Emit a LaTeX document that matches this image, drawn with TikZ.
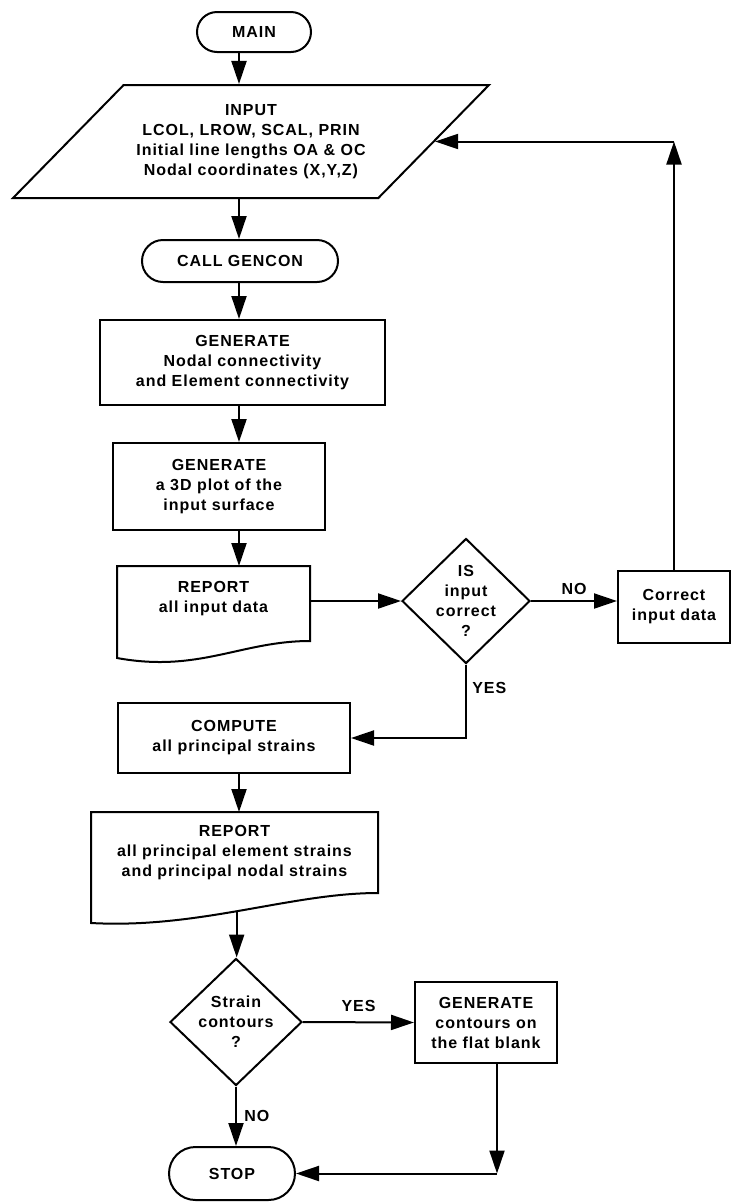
\documentclass[tikz,border=0pt]{standalone}
\usepackage{fontspec}
\setmainfont{Liberation Sans}[LetterSpace=6]
\usetikzlibrary{arrows.meta,positioning,calc,shapes.geometric,shapes.misc}
\tikzset{
  box/.style={draw,line width=2pt,align=center,inner sep=2pt},
  term/.style={box,rounded rectangle},
  inbox/.style={box,trapezium,trapezium left angle=35.3,trapezium right angle=144.7,trapezium stretches body=true,minimum width=476pt,minimum height=113pt},
  doc/.style={align=center,inner sep=0pt},
  decision/.style={draw,line width=2pt,diamond,minimum width=128pt,minimum height=125pt,inner sep=0pt},
  dtext/.style={align=center,inner sep=0pt},
  arrow/.style={-{Triangle[length=23pt,width=15pt]},line width=2pt}
}
\begin{document}
\begin{tikzpicture}[x=1pt,y=-1pt,font=\fontsize{16}{20}\selectfont\bfseries,line width=2pt]
  \useasboundingbox (0,0) rectangle (731,1203);
  \coordinate (col) at (239,0);

  \node[term,minimum width=118pt,minimum height=40pt] (main) at (254,32) {MAIN};
  \node[inbox] (inp) at (251,141.5) {INPUT\\LCOL, LROW, SCAL, PRIN\\Initial line lengths OA \& OC\\Nodal coordinates (X,Y,Z)};
  \node[term,minimum width=200pt,minimum height=42pt] (call) at (240,261) {CALL GENCON};
  \node[box,minimum width=285pt,minimum height=85pt] (gen1) at (242.5,362.5) {GENERATE\\Nodal connectivity\\and Element connectivity};
  \node[box,minimum width=212pt,minimum height=87pt] (gen2) at (219,486.5) {GENERATE\\a 3D plot of the\\input surface};
  \node[doc,minimum width=191pt,minimum height=64pt] (rep1) at (213.5,599) {REPORT\\all input data};
  \node[decision] (dec1) at (466,601) {};
  \node[dtext] (dec1t) at (dec1) {IS\\input\\correct\\?};
  \node[box,minimum width=112pt,minimum height=72pt] (cor) at (674,607) {Correct\\input data};
  \node[box,minimum width=232pt,minimum height=70pt] (comp) at (234,738) {COMPUTE\\all principal strains};
  \node[doc,minimum width=285pt,minimum height=79pt] (rep2) at (234.5,852.5) {REPORT\\all principal element strains\\and principal nodal strains};
  \node[decision,minimum width=132pt,minimum height=127pt] (dec2) at (236,1022) {};
  \node[dtext] (dec2t) at (dec2) {Strain\\contours\\?};
  \node[box,minimum width=142pt,minimum height=81pt] (gen3) at (486,1022.5) {GENERATE\\contours on\\the flat blank};
  \node[term,minimum width=130pt,minimum height=53pt] (stop) at (232,1173.5) {STOP};

  % report outlines with the wavy bottom
  \draw (rep1.north west) -- (rep1.north east) -- ($(rep1.south east)+(0,9)$)
    .. controls ($(rep1.south east)+(-69,9)$) and ($(rep1.south west)+(82,41)$) .. ($(rep1.south west)+(0,26)$) -- cycle;
  \draw (rep2.north west) -- (rep2.north east) -- (rep2.south east)
    .. controls ($(rep2.south east)+(-87,0)$) and ($(rep2.south west)+(108,36)$) .. ($(rep2.south west)+(0,30)$) coordinate[pos=.52] (r2out) -- cycle;

  % main column
  \draw[arrow] (main.south -| col) -- (inp.north -| col);
  \draw[arrow] (inp.south -| col) -- (call.north -| col);
  \draw[arrow] (call.south -| col) -- (gen1.north -| col);
  \draw[arrow] (gen1.south -| col) -- (gen2.north -| col);
  \draw[arrow] (gen2.south -| col) -- (rep1.north -| col);
  \draw[arrow] (rep1.east |- dec1.west) -- (dec1.west);
  \draw[arrow] (dec1.east) -- node[above=2pt]{NO} (dec1.east -| cor.west);
  \draw[arrow] (cor.north) -- (cor.north |- inp.east);
  \draw[arrow] (cor.north |- inp.east) -- (inp.east);
  \draw[arrow] (dec1.south) |- node[pos=.16,right=2pt]{YES} (comp.east);
  \draw[arrow] (comp.south -| col) -- (rep2.north -| col);
  \draw[arrow] (r2out) -- (r2out |- dec2.north);
  \draw[arrow] (dec2.east) -- node[above=6pt]{YES} (gen3.west);
  \draw[arrow] (dec2.south) -- node[right=4pt]{NO} (dec2.south |- stop.north);
  \draw[arrow] ([xshift=11pt]gen3.south) -- ([xshift=11pt]gen3.south |- stop.east);
  \draw[arrow] ([xshift=11pt]gen3.south |- stop.east) -- (stop.east);
\end{tikzpicture}
\end{document}
